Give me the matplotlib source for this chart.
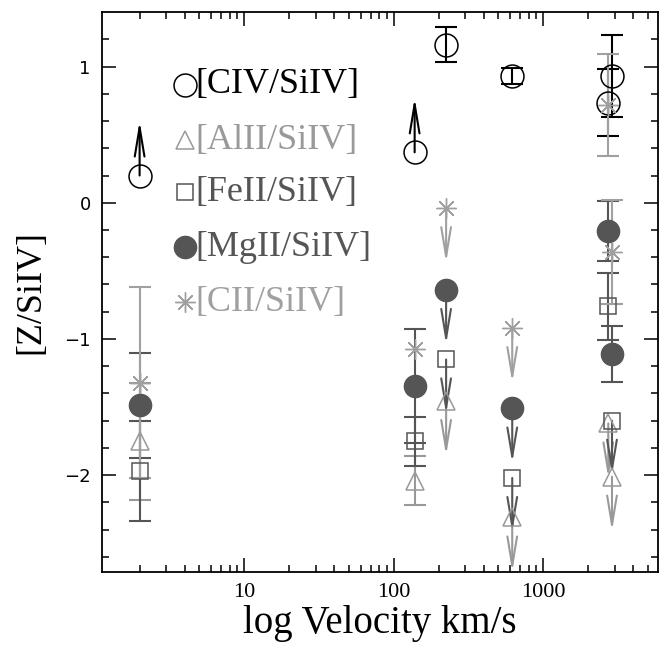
import matplotlib
matplotlib.use('Agg')
import matplotlib.pyplot as plt
from matplotlib.ticker import FixedLocator, NullFormatter, LogLocator

# velocities (km/s) of the absorbers
vel = [2, 138, 224, 620, 2720, 2880]

# abundance ratios, error bars (0 = none) and limits ('lo' lower, 'up' upper)
civ_y = [0.20, 0.37, 1.16, 0.93, 0.735, 0.93]
civ_err = [0, 0, 0.13, 0.06, 0.245, 0.30]
civ_lim = ['lo', 'lo', '', '', '', '']

alii_y = [-1.75, -2.04, -1.455, -2.31, -1.62, -2.01]
alii_err = [0.43, 0.18, 0, 0, 0, 0]
alii_lim = ['', '', 'up', 'up', 'up', 'up']

feii_y = [-1.97, -1.75, -1.15, -2.02, -0.76, -1.60]
feii_err = [0.365, 0.18, 0, 0, 0.245, 0]
feii_lim = ['', '', 'up', 'up', '', 'up']

mgii_y = [-1.485, -1.345, -0.64, -1.51, -0.21, -1.11]
mgii_err = [0.385, 0.42, 0, 0, 0.22, 0.205]
mgii_lim = ['', '', 'up', 'up', '', '']

cii_y = [-1.32, -1.075, -0.04, -0.92, 0.72, -0.36]
cii_err = [0.70, 0, 0, 0, 0.375, 0.38]
cii_lim = ['', '', 'up', 'up', '', '']

labels = ['[CIV/SiIV]', '[AlII/SiIV]', '[FeII/SiIV]', '[MgII/SiIV]', '[CII/SiIV]']
arrow_len = 0.4

serif = 'Liberation Serif'

fig = plt.figure(figsize=(6.62, 6.46), dpi=100)
ax = fig.add_axes([0.154, 0.1146, 0.840, 0.8668])

series = [
    (civ_y, civ_err, civ_lim, '#000000', dict(marker='o', ms=16.5, mfc='none', mew=1.1)),
    (alii_y, alii_err, alii_lim, '#999999', dict(marker='^', ms=13.5, mfc='none', mew=1.1)),
    (feii_y, feii_err, feii_lim, '#555555', dict(marker='s', ms=11.5, mfc='none', mew=1.1)),
    (mgii_y, mgii_err, mgii_lim, '#555555', dict(marker='o', ms=16, mfc='#555555', mew=1.0)),
    (cii_y, cii_err, cii_lim, '#a0a0a0', dict(marker=(8, 2, 0), ms=14.5, mfc='none', mew=1.0)),
]

for ys, errs, lims, col, mk in series:
    for x, y, e, lim in zip(vel, ys, errs, lims):
        if e > 0:
            ax.errorbar([x], [y], yerr=[e], fmt='none', ecolor=col, elinewidth=1.5,
                        capsize=8, capthick=1.5, zorder=2)
        if lim:
            dy = arrow_len if lim == 'lo' else -arrow_len
            ax.annotate('', xy=(x, y + dy), xytext=(x, y),
                        arrowprops=dict(arrowstyle='->,head_length=2.1,head_width=0.35',
                                        color=col, lw=1.5, shrinkA=0, shrinkB=0),
                        zorder=2, annotation_clip=False)
        ax.plot([x], [y], linestyle='none', color=col, mec=col, zorder=3, **mk)

# legend drawn by hand, like the original
leg_y = [0.870, 0.771, 0.678, 0.580, 0.482]
for (ys, errs, lims, col, mk), lab, ly in zip(series, labels, leg_y):
    ax.plot([0.150], [ly], transform=ax.transAxes, linestyle='none', color=col, mec=col, **mk)
    ax.text(0.168, ly, lab, transform=ax.transAxes, color=col, fontsize=26,
            family=serif, va='center', ha='left')

ax.set_xscale('log')
ax.set_xlim(1.12, 5850)
ax.set_ylim(-2.71, 1.40)

ax.xaxis.set_major_locator(FixedLocator([10, 100, 1000]))
ax.xaxis.set_minor_locator(LogLocator(base=10, subs=range(2, 10)))
ax.xaxis.set_minor_formatter(NullFormatter())
ax.set_xticklabels(['10', '100', '1000'], family=serif, fontsize=16)
ax.set_yticks([-2, -1, 0, 1])
ax.set_yticks([v / 10 for v in range(-26, 14, 2)], minor=True)
ax.set_yticklabels(['\u22122', '\u22121', '0', '1'], fontsize=13)

ax.tick_params(which='both', direction='in', top=True, right=True, width=1.1)
ax.tick_params(which='major', length=10, pad=8)
ax.tick_params(which='minor', length=5)
for sp in ax.spines.values():
    sp.set_linewidth(1.3)

ax.set_xlabel('log Velocity km/s', family=serif, fontsize=28, labelpad=2)
ax.set_ylabel('[Z/SiIV]', family=serif, fontsize=26, labelpad=12)

plt.savefig('out.png', dpi=100)
